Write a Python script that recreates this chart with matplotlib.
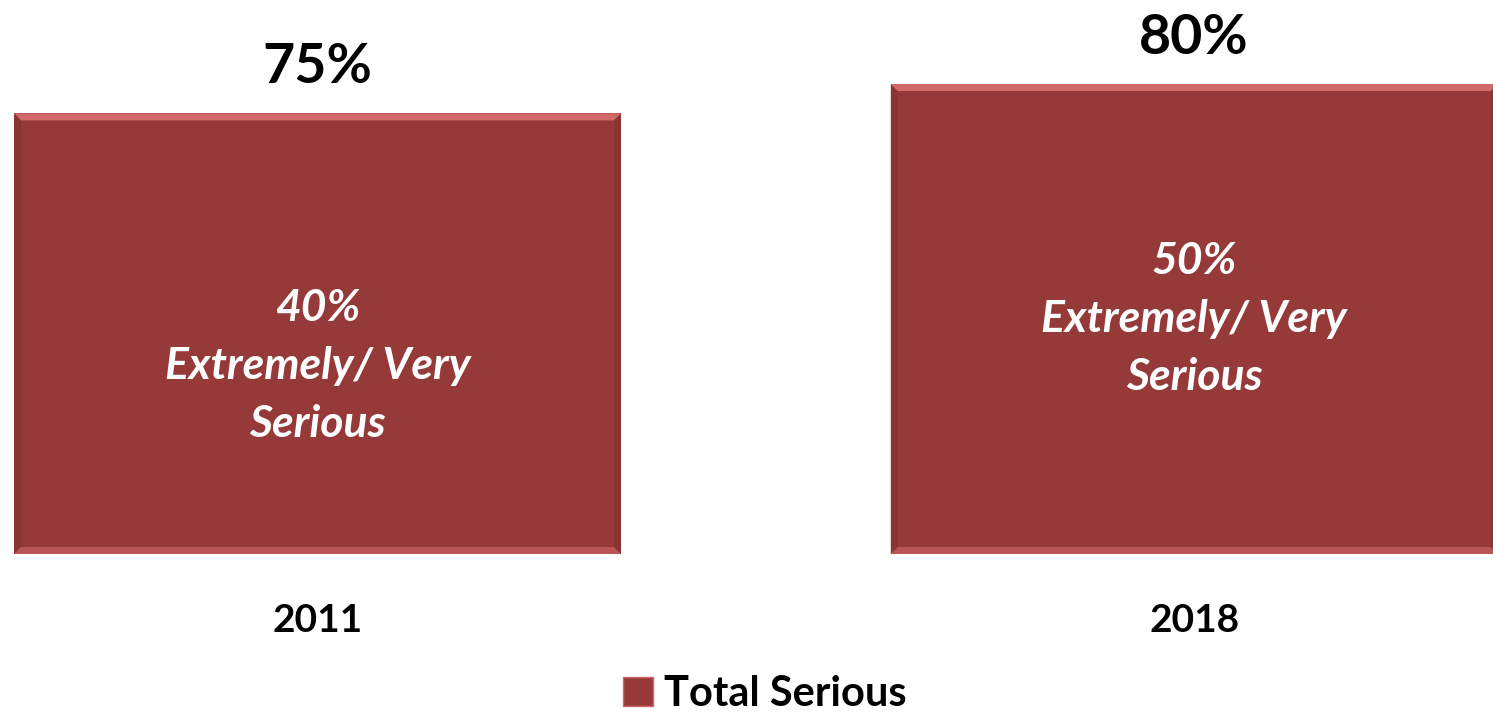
import matplotlib
matplotlib.use("Agg")
import matplotlib.pyplot as plt
from matplotlib.patches import Polygon, Patch

years = ["2011", "2018"]
total_serious = [75, 80]
extremely_very = [40, 50]
series_name = "Total Serious"

FACE = "#953a39"
LIGHT = "#cf6a68"
DARK = "#7b2c2b"

plt.rcParams['font.family'] = ['Lato', 'DejaVu Sans']

fig = plt.figure(figsize=(14.93, 7.17), dpi=100)
W, H = 1493, 717
ax = fig.add_axes([14 / W, (717 - 554) / H, (1493 - 14) / W, 470 / H])
width = 0.6925
x = list(range(len(years)))
bars = ax.bar(x, total_serious, width=width, color=FACE, zorder=2)
ax.set_xlim(-width / 2, len(years) - 1 + 0.341)
ax.set_ylim(0, max(total_serious))
ax.axis("off")

# bevel effect derived from each bar's geometry
px_x = (ax.get_xlim()[1] - ax.get_xlim()[0]) / (1493 - 14)
px_y = (ax.get_ylim()[1] - ax.get_ylim()[0]) / 470
b = 7
for bar in bars:
    x0, y0 = bar.get_x(), bar.get_y()
    x1, y1 = x0 + bar.get_width(), y0 + bar.get_height()
    dx, dy = b * px_x, b * px_y
    top = [(x0, y1), (x1, y1), (x1 - dx, y1 - dy), (x0 + dx, y1 - dy)]
    left = [(x0, y0), (x0, y1), (x0 + dx, y1 - dy), (x0 + dx, y0 + dy)]
    bottom = [(x0, y0), (x1, y0), (x1 - dx, y0 + dy), (x0 + dx, y0 + dy)]
    right = [(x1, y0), (x1, y1), (x1 - dx, y1 - dy), (x1 - dx, y0 + dy)]
    ax.add_patch(Polygon(top, closed=True, color=LIGHT, lw=0, zorder=3))
    ax.add_patch(Polygon(left, closed=True, color=DARK, lw=0, zorder=3, alpha=0.4))
    ax.add_patch(Polygon(bottom, closed=True, color=LIGHT, lw=0, zorder=3, alpha=0.6))
    ax.add_patch(Polygon(right, closed=True, color=DARK, lw=0, zorder=3, alpha=0.4))

for xi, tot, ext in zip(x, total_serious, extremely_very):
    ax.annotate(f"{tot}%", (xi, tot), xytext=(0, 21.6), textcoords="offset points",
                ha="center", va="baseline", fontsize=40, fontweight="bold",
                color="black", annotation_clip=False)
    ax.text(xi, ext * 0.8, f"{ext}%\nExtremely/ Very\nSerious", ha="center", va="center",
            fontsize=32, fontweight="bold", fontstyle="italic", color="white",
            linespacing=1.55, zorder=4)
    ax.annotate(years[xi], (xi, 0), xytext=(0, -56), textcoords="offset points",
                ha="center", va="baseline", fontsize=28, fontweight="bold",
                annotation_clip=False)

fig.legend(handles=[Patch(facecolor=FACE, edgecolor=LIGHT, linewidth=1)], labels=[series_name],
           loc="center", bbox_to_anchor=(765 / W, 1 - 694 / H), frameon=False,
           prop={"size": 30, "weight": "bold"}, handlelength=0.72, handleheight=0.72,
           handletextpad=0.25, borderpad=0.1)

fig.savefig("out.png", dpi=100)
